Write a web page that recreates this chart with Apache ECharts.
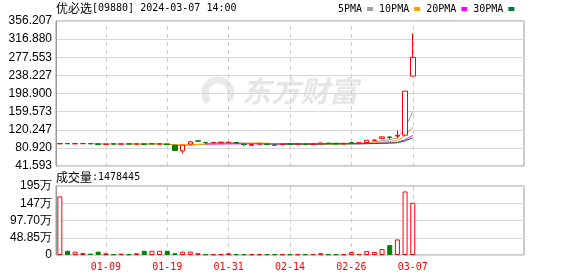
<!DOCTYPE html>
<html><head><meta charset="utf-8">
<script src="https://cdn.jsdelivr.net/npm/echarts@6/dist/echarts.min.js"></script>
<style>html,body{margin:0;padding:0;background:#fff}#c{width:578px;height:276px}</style>
</head><body><div id="c"></div>
<script>
// ---- data ----
const dates = ['12-29','01-02','01-03','01-04','01-05','01-08','01-09','01-10','01-11','01-12','01-15','01-16','01-17','01-18','01-19','01-22','01-23','01-24','01-25','01-26','01-29','01-30','01-31','02-01','02-02','02-05','02-06','02-07','02-08','02-09','02-14','02-15','02-16','02-19','02-20','02-21','02-22','02-23','02-26','02-27','02-28','02-29','03-01','03-04','03-05','03-06','03-07'];
const futureDates = ['03-08','03-11','03-12','03-13','03-14','03-15','03-18','03-19','03-20','03-21','03-22','03-25','03-26','03-27'];
const opens  = [89.8,90.5,89.6,89.9,90.3,89.6,88.6,89.8,89.1,89.8,89.2,89.6,89.8,89.0,89.5,86.8,74.4,89.0,96.2,92.8,92.0,92.3,92.5,92.5,89.0,86.5,89.0,89.2,87.2,88.5,89.7,88.9,89.5,88.8,89.6,91.2,90.9,89.4,92.0,91.0,92.6,97.3,101.5,104.6,106.5,108.5,236.7];
const closes = [90.2,89.8,90.3,90.5,89.7,88.4,89.2,89.0,89.6,89.2,89.5,88.6,89.6,89.8,88.0,75.5,86.8,94.0,95.5,92.4,92.6,92.8,93.0,91.0,88.0,88.3,89.6,88.3,86.6,89.0,88.8,89.3,88.7,89.1,91.5,90.6,89.5,90.9,91.8,91.9,97.4,97.8,104.8,103.6,108.2,204.1,277.4];
const highs  = [91.5,90.8,91.5,91.5,90.6,89.8,89.6,90.0,90.0,90.0,89.9,89.8,90.2,90.0,89.8,87.2,87.0,96.0,97.3,93.0,93.0,94.0,93.5,92.8,90.5,88.5,90.0,89.5,87.5,89.3,90.0,89.6,89.8,89.4,91.8,91.4,91.5,91.5,93.0,92.2,98.0,99.0,105.2,106.0,118.6,204.1,329.3];
const lows   = [88.8,89.4,89.0,89.3,89.2,88.0,88.2,88.8,88.9,89.0,88.9,88.3,89.0,88.5,87.5,75.0,68.7,88.8,94.5,89.0,91.6,90.0,92.0,90.6,85.0,85.0,88.6,88.0,86.2,88.2,88.5,88.6,87.5,88.5,89.4,90.3,88.9,89.0,90.8,90.8,92.2,96.3,100.0,99.5,101.3,106.0,236.5];
const volumes = [1660000,120000,95000,57000,40000,95000,50000,20000,40000,20000,50000,120000,120000,120000,120000,50000,95000,95000,50000,20000,20000,20000,50000,20000,20000,20000,20000,20000,20000,20000,20000,20000,20000,25000,50000,20000,20000,20000,85000,30000,110000,85000,170000,280000,440000,1800000,1478445];
const labelDates = ['01-09','01-19','01-31','02-14','02-26','03-07'];
const priceTicks = ['41.593','80.920','120.247','159.573','198.900','238.227','277.553','316.880','356.207'];
const volTicks = ['0','48.85万','97.70万','147万','195万'];
const maPeriods = [5,10,20,30];
const maNames = ['5PMA','10PMA','20PMA','30PMA'];
const maColors = ['#a0a0a0','#f5a000','#ff00ff','#007a30'];

// ---- build ----
const RED = '#ff0000', GREEN = '#008000', GRIDC = '#d8d8d8', FRAME = '#999999';
const cats = dates.concat(futureDates);
const kData = dates.map((d, i) => [opens[i], closes[i], lows[i], highs[i]]);
function ma(p) {
  return cats.map((_, i) => {
    if (i < p - 1 || i >= closes.length) return '-';
    let s = 0; for (let k = i - p + 1; k <= i; k++) s += closes[k];
    return +(s / p).toFixed(3);
  });
}
const volData = volumes.map((v, i) => {
  const up = i === 0 ? closes[0] >= opens[0] : closes[i] >= closes[i - 1];
  return { value: v, itemStyle: up ? { color: '#fff', borderColor: RED, borderWidth: 1 } : { color: GREEN, borderColor: GREEN, borderWidth: 1 } };
});
const vlines = labelDates.map(d => ({ xAxis: d }));
const markLineCfg = { symbol: ['none', 'none'], silent: true, z: 1, label: { show: false }, lineStyle: { color: '#cccccc', type: [4, 4], width: 1 }, data: vlines, animation: false };

const chart = echarts.init(document.getElementById('c'), null, { renderer: 'canvas' });
const series = [
  { type: 'candlestick', name: 'K', xAxisIndex: 0, yAxisIndex: 0, data: kData, barWidth: 5, z: 10,
    itemStyle: { color: '#ffffff', color0: GREEN, borderColor: RED, borderColor0: GREEN, borderWidth: 1 },
    emphasis: { disabled: true }, markLine: markLineCfg }
];
maPeriods.forEach((p, k) => series.push({
  type: 'line', name: maNames[k], xAxisIndex: 0, yAxisIndex: 0, data: ma(p), showSymbol: false, symbol: 'none', z: 6,
  lineStyle: { width: 1, color: maColors[k] }, itemStyle: { color: maColors[k] }
}));
series.push({ type: 'bar', name: 'VOL', xAxisIndex: 1, yAxisIndex: 2, data: volData, barWidth: 5, z: 10, emphasis: { disabled: true }, markLine: markLineCfg });

const richT = { a: { fontFamily: 'Noto Sans CJK SC', fontSize: 12, fontWeight: 'normal', color: '#000' }, b: { fontFamily: 'DejaVu Sans Mono', fontSize: 10, fontWeight: 'normal', color: '#000' } };
chart.setOption({
  animation: false,
  title: [
    { left: 56, top: 2, padding: 0, text: '{a|优必选}{b|[09880] 2024-03-07 14:00}', textStyle: { fontWeight: 'normal', rich: richT } },
    { left: 56, top: 171, padding: 0, text: '{a|成交量}{b|:1478445}', textStyle: { fontWeight: 'normal', rich: richT } }
  ],
  legend: { left: 338, top: 4, padding: 0, align: 'right', icon: 'rect', itemWidth: 6, itemHeight: 4, itemGap: 6, data: maNames,
    textStyle: { fontFamily: 'DejaVu Sans Mono', fontSize: 10, color: '#000' } },
  graphic: [
    { type: 'arc', z: -10, silent: true, shape: { cx: 218, cy: 93, r: 13, startAngle: 2.4, endAngle: 6.8 }, style: { stroke: '#e9e9e9', lineWidth: 7, fill: null } },
    { type: 'text', left: 242, top: 76, z: -10, silent: true,
      style: { text: '东方财富', fontFamily: 'Noto Sans CJK SC', fontSize: 29, fontWeight: 'bold', fontStyle: 'italic', fill: '#e6e6e6' } }
  ],
  grid: [
    { left: 56, right: 54, top: 21, height: 145, show: true, borderColor: FRAME, borderWidth: 1, backgroundColor: 'transparent' },
    { left: 56, right: 54, top: 186, height: 69, show: true, borderColor: FRAME, borderWidth: 1, backgroundColor: 'transparent' }
  ],
  xAxis: [
    { type: 'category', gridIndex: 0, data: cats, boundaryGap: true, axisLine: { show: false }, axisTick: { show: false }, axisLabel: { show: false }, splitLine: { show: false } },
    { type: 'category', gridIndex: 1, data: cats, boundaryGap: true, axisLine: { show: false }, axisTick: { show: false }, splitLine: { show: false },
      axisLabel: { interval: (i, v) => labelDates.includes(v), color: RED, fontFamily: 'DejaVu Sans Mono', fontSize: 10, margin: 7 } }
  ],
  yAxis: [
    { type: 'value', gridIndex: 0, min: 41.593, max: 356.207, show: false, position: 'right' },
    { type: 'value', gridIndex: 0, min: 0, max: 8, interval: 1, position: 'left',
      axisLine: { show: true, lineStyle: { color: FRAME } }, axisTick: { show: false },
      axisLabel: { formatter: v => priceTicks[Math.round(v)], color: '#000', fontFamily: 'Liberation Sans', fontSize: 12, margin: 4 },
      splitLine: { lineStyle: { color: GRIDC } } },
    { type: 'value', gridIndex: 1, min: 0, max: 1954000, interval: 488500, position: 'left',
      axisLine: { show: true, lineStyle: { color: FRAME } }, axisTick: { show: false },
      axisLabel: { formatter: v => volTicks[Math.round(v / 488500)], color: '#000', fontFamily: 'Liberation Sans', fontSize: 12, margin: 4 },
      splitLine: { lineStyle: { color: GRIDC } } }
  ],
  series: series
});
</script></body></html>
